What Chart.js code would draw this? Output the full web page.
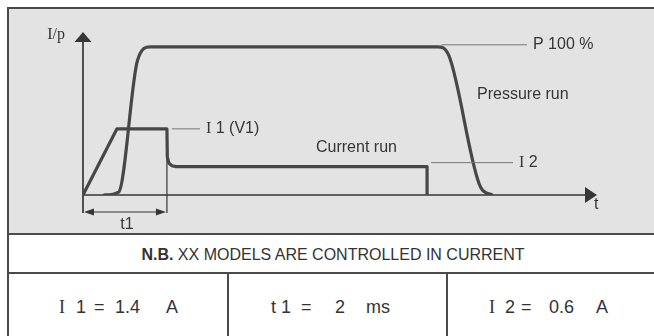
<!DOCTYPE html>
<html>
<head>
<meta charset="utf-8">
<script src="https://cdn.jsdelivr.net/npm/chart.js@4.4.1/dist/chart.umd.min.js"></script>
<style>
  html, body { margin: 0; padding: 0; background: #fff; }
  body { width: 654px; height: 336px; overflow: hidden; position: relative;
         font-family: "Liberation Sans", Arial, sans-serif; color: #333; }
  .frame { position: absolute; left: 7px; top: 7px; width: 660px; height: 340px;
           border: 2px solid #4a4a4a; box-sizing: border-box; }
  .plot-bg { position: absolute; left: 9px; top: 9px; width: 660px; height: 224px; background: #e3e3e3; }
  .hline { position: absolute; left: 7px; width: 660px; height: 2px; background: #4a4a4a; }
  .vline { position: absolute; top: 273px; width: 2px; height: 80px; background: #4a4a4a; }
  .note { position: absolute; left: 8px; width: 650px; top: 247px; height: 16px;
          line-height: 16px; font-size: 16px; text-align: center; }
  .tok { position: absolute; top: 298px; white-space: pre; font-size: 18px; line-height: 18px; }
  .serif { font-family: "Liberation Serif", "Times New Roman", serif; }
  canvas { position: absolute; left: 0; top: 0; }
</style>
</head>
<body>
<div class="frame"></div>
<div class="plot-bg"></div>
<div class="hline" style="top:233px"></div>
<div class="hline" style="top:272px"></div>
<div class="vline" style="left:227px"></div>
<div class="vline" style="left:446px"></div>

<div class="note"><b>N.B.</b> XX MODELS ARE CONTROLLED IN CURRENT</div>

<span class="tok serif" style="left:59px">I</span>
<span class="tok" style="left:76px">1</span>
<span class="tok" style="left:94px">=</span>
<span class="tok" id="valI1" style="left:115px"></span>
<span class="tok" style="left:166px">A</span>

<span class="tok" style="left:271px">t</span>
<span class="tok" style="left:281px">1</span>
<span class="tok" style="left:301px">=</span>
<span class="tok" id="valT1" style="left:335px"></span>
<span class="tok" style="left:366px">ms</span>

<span class="tok serif" style="left:489px">I</span>
<span class="tok" style="left:505px">2</span>
<span class="tok" style="left:521px">=</span>
<span class="tok" id="valI2" style="left:549px"></span>
<span class="tok" style="left:596px">A</span>

<canvas id="diagram" width="654" height="240"></canvas>

<script>
// welding settings shown in the table
const setI1 = 1.4;   // A
const setT1 = 2;     // ms
const setI2 = 0.6;   // A

// pressure run, time in ms, pressure in % of set point
const pressureTime = [0.5, 0.85, 1.3, 1.6, 8.45, 8.72, 9.48, 9.75];
const pressurePct  = [0, 2, 91, 100, 100, 94, 5, 0];

// current run, time in ms, current in A
const currentTime = [0, 0.81, setT1, 2.01, 2.05, 2.12, 2.22, 8.2, 8.2];
const currentAmps = [0, setI1, setI1, 0.8, 0.67, 0.62, setI2, setI2, 0];

// axis ranges
const xMax = 12.25;
const pMax = 110;
const iMax = 3.45;

document.getElementById('valI1').textContent = setI1.toFixed(1);
document.getElementById('valT1').textContent = String(setT1);
document.getElementById('valI2').textContent = setI2.toFixed(1);

const ink = '#363636';
const curveInk = '#474747';
const leaderInk = '#777';
const sans = '16px "Liberation Sans", Arial, sans-serif';
const serif = '16px "Liberation Serif", "Times New Roman", serif';

function seg(ctx, x1, y1, x2, y2) {
  ctx.beginPath();
  ctx.moveTo(x1, y1);
  ctx.lineTo(x2, y2);
  ctx.stroke();
}

// filled arrowhead with its tip at (tx, ty), pointing along (dx, dy)
function arrow(ctx, tx, ty, dx, dy, len, half) {
  const bx = tx - dx * len, by = ty - dy * len;
  ctx.beginPath();
  ctx.moveTo(tx, ty);
  ctx.lineTo(bx - dy * half, by + dx * half);
  ctx.lineTo(bx + dy * half, by - dx * half);
  ctx.closePath();
  ctx.fill();
}

// text made of pieces in different fonts, left aligned
function textRun(ctx, parts, x, y) {
  let cx = x;
  for (const [text, font] of parts) {
    ctx.font = font;
    ctx.fillText(text, cx, y);
    cx += ctx.measureText(text).width;
  }
}

const diagramPlugin = {
  id: 'diagram',
  beforeDatasetsDraw(chart) {
    const { ctx, scales: { x, y, y1 } } = chart;
    const x0 = x.getPixelForValue(0);
    const xEnd = x.getPixelForValue(xMax);
    const yBase = y.getPixelForValue(0);
    const yTop = y.getPixelForValue(pMax);
    const xT1 = x.getPixelForValue(setT1);
    const dimY = yBase + 17;

    ctx.save();
    ctx.strokeStyle = ink;
    ctx.fillStyle = ink;

    // axes with arrowheads, the y axis runs on down to the t1 dimension
    ctx.lineWidth = 1.7;
    seg(ctx, x0, dimY + 1, x0, yTop + 9);
    seg(ctx, x0, yBase, xEnd - 11, yBase);
    arrow(ctx, x0, yTop, 0, -1, 10, 8.5);
    arrow(ctx, xEnd, yBase, 1, 0, 12, 8);

    // t1 dimension
    ctx.lineWidth = 1.2;
    seg(ctx, xT1, y1.getPixelForValue(setI1), xT1, dimY + 1);
    seg(ctx, x0 + 8, dimY, xT1 - 8, dimY);
    arrow(ctx, x0 + 1, dimY, -1, 0, 10, 3.5);
    arrow(ctx, xT1 - 1, dimY, 1, 0, 10, 3.5);
    ctx.restore();
  },
  afterDatasetsDraw(chart) {
    const { ctx, scales: { x, y, y1 } } = chart;
    const x0 = x.getPixelForValue(0);
    const xEnd = x.getPixelForValue(xMax);
    const yBase = y.getPixelForValue(0);
    const yTop = y.getPixelForValue(pMax);
    const xT1 = x.getPixelForValue(setT1);
    const yP100 = y.getPixelForValue(100);
    const yI1 = y1.getPixelForValue(setI1);
    const yI2 = y1.getPixelForValue(setI2);
    const xPEnd = x.getPixelForValue(pressureTime[4]);
    const xIEnd = x.getPixelForValue(currentTime[7]);

    ctx.save();
    // leader lines
    ctx.strokeStyle = leaderInk;
    ctx.lineWidth = 1;
    seg(ctx, xPEnd + 4, yP100 - 2, 527, yP100 - 2);
    seg(ctx, xT1 + 5, yI1, 200, yI1);
    seg(ctx, xIEnd + 4, yI2 - 4, 513, yI2 - 4);

    ctx.fillStyle = ink;
    ctx.textBaseline = 'middle';
    ctx.textAlign = 'left';
    textRun(ctx, [['P 100 %', sans]], 533, yP100 - 2);
    textRun(ctx, [['Pressure run', sans]], 477, 95);
    textRun(ctx, [['I', serif], [' 1 (V1)', sans]], 206, yI1);
    textRun(ctx, [['Current run', sans]], 316, 148);
    textRun(ctx, [['I', serif], [' 2', sans]], 519, yI2 - 4);
    textRun(ctx, [['t', sans]], xEnd - 3, yBase + 10);

    ctx.textAlign = 'right';
    textRun(ctx, [['I/p', serif]], x0 - 18, yTop + 3);

    ctx.textAlign = 'center';
    ctx.font = sans;
    ctx.fillText('t1', (x0 + xT1) / 2 + 2, yBase + 30);
    ctx.restore();
  }
};

new Chart(document.getElementById('diagram'), {
  type: 'scatter',
  data: {
    datasets: [
      {
        label: 'Pressure run',
        data: pressureTime.map((t, i) => ({ x: t, y: pressurePct[i] })),
        yAxisID: 'y',
        showLine: true,
        borderColor: curveInk,
        borderWidth: 3.2,
        borderJoinStyle: 'round',
        borderCapStyle: 'round',
        cubicInterpolationMode: 'monotone',
        pointRadius: 0,
      },
      {
        label: 'Current run',
        data: currentTime.map((t, i) => ({ x: t, y: currentAmps[i] })),
        yAxisID: 'y1',
        showLine: true,
        borderColor: curveInk,
        borderWidth: 3.2,
        borderJoinStyle: 'round',
        borderCapStyle: 'round',
        tension: 0,
        pointRadius: 0,
      },
    ],
  },
  options: {
    responsive: false,
    animation: false,
    events: [],
    layout: { padding: { left: 83, right: 57, top: 32, bottom: 45 } },
    scales: {
      x: { type: 'linear', min: 0, max: xMax, display: false },
      y: { type: 'linear', min: 0, max: pMax, display: false },
      y1: { type: 'linear', min: 0, max: iMax, display: false, position: 'left' },
    },
    plugins: {
      legend: { display: false },
      tooltip: { enabled: false },
    },
  },
  plugins: [diagramPlugin],
});
</script>
</body>
</html>
